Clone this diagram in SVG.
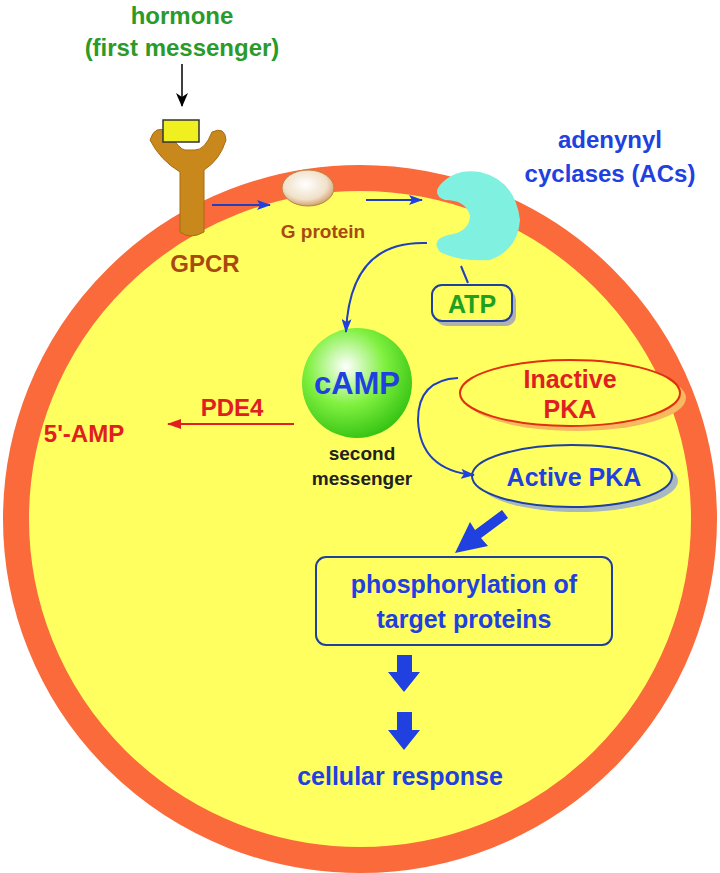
<svg xmlns="http://www.w3.org/2000/svg" width="720" height="873" viewBox="0 0 720 873">
<defs>
<style>
text{font-family:"Liberation Sans",Arial,sans-serif;font-weight:bold}
.thin{stroke:#2040c0;stroke-width:2;fill:none}
</style>
<marker id="ab" markerWidth="14" markerHeight="10" refX="13" refY="5" orient="auto" markerUnits="userSpaceOnUse"><path d="M0,0L14,5L0,10L3,5z" fill="#2040e0"/></marker>
<marker id="ar" markerWidth="14" markerHeight="10" refX="13" refY="5" orient="auto" markerUnits="userSpaceOnUse"><path d="M0,0L14,5L0,10z" fill="#e02020"/></marker>
<marker id="ak" markerWidth="14" markerHeight="12" refX="13" refY="6" orient="auto" markerUnits="userSpaceOnUse"><path d="M0,0L14,6L0,12L4,6z" fill="#000"/></marker>
<radialGradient id="g1" cx="0.4" cy="0.35" r="0.7"><stop offset="0" stop-color="#ffffff"/><stop offset="0.5" stop-color="#80f040"/><stop offset="1" stop-color="#30c010"/></radialGradient>
<radialGradient id="g2" cx="0.45" cy="0.4" r="0.7"><stop offset="0" stop-color="#ffffff"/><stop offset="0.6" stop-color="#f0e0c8"/><stop offset="1" stop-color="#c08040"/></radialGradient>
</defs>
<rect width="720" height="873" fill="#fff"/>
<g id="cell"><ellipse cx="360" cy="519" rx="344" ry="341" fill="#ffff60" stroke="#fa6a3a" stroke-width="26"/></g>
<g id="hormone">
<text x="182" y="24" font-size="24" fill="#2a9a2a" text-anchor="middle">hormone</text>
<text x="182" y="56" font-size="24" fill="#2a9a2a" text-anchor="middle">(first messenger)</text>
</g>
<g id="gpcr">
<path d="M150,140 Q155,124 168,132 Q180,150 185,150 L195,150 Q205,150 212,132 Q225,126 226,140 Q220,160 204,170 L204,232 Q190,240 180,232 L180,172 Q160,160 150,140z" fill="#c8881c" stroke="#a86a10" stroke-width="1"/>
<rect x="163" y="120" width="36" height="22" fill="#f0f020" stroke="#333" stroke-width="1.5"/>
<text x="205" y="272" font-size="24" fill="#a84a10" text-anchor="middle">GPCR</text>
</g>
<g id="gprotein">
<ellipse cx="308" cy="188" rx="26" ry="18" fill="url(#g2)" stroke="#c08040"/>
<text x="323" y="238" font-size="19" fill="#a84a10" text-anchor="middle">G protein</text>
</g>
<g id="ac">
<path d="M440,185 Q455,168 480,172 Q515,180 520,220 Q518,250 490,260 Q460,262 440,252 Q430,240 448,235 Q470,232 470,215 Q465,200 445,200 Q432,195 440,185z" fill="#80f0e0"/>
<text x="610" y="148" font-size="24" fill="#2040e0" text-anchor="middle">adenynyl</text>
<text x="610" y="182" font-size="24" fill="#2040e0" text-anchor="middle">cyclases (ACs)</text>
</g>
<g id="atp">
<rect x="436" y="290" width="80" height="36" rx="10" fill="#b0b0b0"/>
<rect x="432" y="285" width="80" height="36" rx="10" fill="#ffff60" stroke="#2040a0" stroke-width="2"/>
<text x="472" y="313" font-size="25" fill="#20a020" text-anchor="middle">ATP</text>
</g>
<g id="camp">
<circle cx="357" cy="383" r="55" fill="url(#g1)"/>
<text x="357" y="394" font-size="31" fill="#2040e0" text-anchor="middle">cAMP</text>
<text x="362" y="460" font-size="19" fill="#222" text-anchor="middle" font-weight="normal">second</text>
<text x="362" y="485" font-size="19" fill="#222" text-anchor="middle" font-weight="normal">messenger</text>
</g>
<g id="inactive">
<ellipse cx="576" cy="398" rx="110" ry="33" fill="#f8b860"/>
<ellipse cx="570" cy="393" rx="110" ry="33" fill="#ffff60" stroke="#e03010" stroke-width="2"/>
<text x="570" y="388" font-size="25" fill="#e02020" text-anchor="middle">Inactive</text>
<text x="570" y="418" font-size="25" fill="#e02020" text-anchor="middle">PKA</text>
</g>
<g id="active">
<ellipse cx="578" cy="481" rx="100" ry="31" fill="#a8b8c0"/>
<ellipse cx="572" cy="476" rx="100" ry="31" fill="#ffff60" stroke="#2040a0" stroke-width="2"/>
<text x="574" y="486" font-size="25" fill="#2040e0" text-anchor="middle">Active PKA</text>
</g>
<g id="phospho">
<rect x="316" y="557" width="296" height="88" rx="10" fill="#ffff60" stroke="#2040a0" stroke-width="2"/>
<text x="464" y="593" font-size="25" fill="#2040e0" text-anchor="middle">phosphorylation of</text>
<text x="464" y="628" font-size="25" fill="#2040e0" text-anchor="middle">target proteins</text>
</g>
<g id="amp">
<text x="232" y="416" font-size="24" fill="#e02020" text-anchor="middle">PDE4</text>
<text x="84" y="442" font-size="24" fill="#e02020" text-anchor="middle">5'-AMP</text>
</g>
<g id="response"><text x="400" y="785" font-size="25" fill="#2040e0" text-anchor="middle">cellular response</text></g>
<g id="connectors">
<line x1="182" y1="64" x2="182" y2="106" stroke="#000" stroke-width="1.5" marker-end="url(#ak)"/>
<line x1="212" y1="205" x2="270" y2="205" class="thin" marker-end="url(#ab)"/>
<line x1="366" y1="200" x2="422" y2="200" class="thin" marker-end="url(#ab)"/>
<path d="M427,243 Q350,240 346,332" class="thin" marker-end="url(#ab)"/>
<line x1="461" y1="266" x2="468" y2="283" class="thin"/>
<path d="M458,378 Q418,380 418,420 Q420,470 474,475" class="thin" marker-end="url(#ab)"/>
<line x1="294" y1="424" x2="168" y2="424" stroke="#e02020" stroke-width="2" marker-end="url(#ar)"/>
<path d="M502,510 L475,530 L470,522 L455,553 L488,546 L481,538 L508,518z" fill="#2040e0"/>
<path d="M397,655 L412,655 L412,672 L420,672 L404,692 L388,672 L397,672z" fill="#2040e0"/>
<path d="M397,712 L412,712 L412,730 L420,730 L404,750 L388,730 L397,730z" fill="#2040e0"/>
</g>
</svg>
